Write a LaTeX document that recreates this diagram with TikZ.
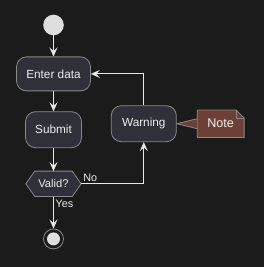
\documentclass[tikz,border=0pt]{standalone}
\usepackage{fontspec}
\setmainfont{Liberation Sans}
\usetikzlibrary{arrows.meta,positioning,backgrounds}

\definecolor{bgc}{RGB}{27,27,27}
\definecolor{actfill}{RGB}{47,48,57}
\definecolor{edgegray}{RGB}{138,138,138}
\definecolor{flowc}{RGB}{232,232,232}
\definecolor{txtc}{RGB}{238,238,238}
\definecolor{dotc}{RGB}{222,222,222}
\definecolor{notefill}{RGB}{108,64,54}

\begin{document}
\begin{tikzpicture}[
  x=1pt,y=-1pt,
  font=\fontsize{11.8}{14}\selectfont,
  act/.style={draw=edgegray,fill=actfill,text=txtc,rounded corners=10pt,line width=0.8pt,align=center,inner sep=0pt},
  startdot/.style={circle,fill=dotc,minimum size=20.6pt,inner sep=0pt},
  flow/.style={draw=flowc,line width=1.1pt,-{Stealth[length=9pt,width=8pt,inset=3.5pt]}},
  lbl/.style={text=txtc,font=\fontsize{10.8}{12}\selectfont,inner sep=1.5pt}
]
\begin{scope}[on background layer]
  \fill[bgc] (0,0) rectangle (264,267);
\end{scope}
\useasboundingbox (0,0) rectangle (264,267);

\node[startdot] (start) at (53.5,25) {};
\node[act,below=21pt of start,minimum width=74pt,minimum height=34pt] (enter) {Enter data};
\node[act,below=20pt of enter,minimum width=56pt,minimum height=36pt] (submit) {Submit};
\node[below=23pt of submit,minimum width=55pt,minimum height=25pt,inner sep=0pt,text=txtc,
  font=\fontsize{11.2}{13}\selectfont] (valid) {Valid?};
\node[circle,draw=edgegray,line width=0.8pt,minimum size=20pt,inner sep=0pt,below=32pt of valid] (stop) {};
\fill[dotc] (stop) circle (6.5pt);
\node[act,right=29pt of submit,yshift=6pt,minimum width=65pt,minimum height=36pt] (warning) {Warning};
\node[right=20.5pt of warning,minimum width=46.5pt,minimum height=27pt,inner sep=0pt,text=txtc,
  font=\fontsize{12.6}{14}\selectfont] (note) {Note};

% shapes drawn behind the text
\begin{scope}[on background layer]
  \draw[draw=edgegray,fill=actfill,line width=0.8pt] (valid.west) -- ([xshift=9pt]valid.north west)
    -- ([xshift=-9pt]valid.north east) -- (valid.east) -- ([xshift=-9pt]valid.south east)
    -- ([xshift=9pt]valid.south west) -- cycle;
  \draw[draw=edgegray,fill=notefill,line width=0.8pt] (note.north west) -- ([xshift=-8pt]note.north east)
    -- ([yshift=-8pt]note.north east) -- (note.south east) -- (note.south west) -- cycle;
  \draw[draw=edgegray,line width=0.8pt] ([xshift=-8pt]note.north east) -- ([xshift=-8pt,yshift=-8pt]note.north east)
    -- ([yshift=-8pt]note.north east);
  \fill[notefill] (warning.east) -- ([yshift=5pt]note.west) -- ([yshift=-5pt]note.west) -- cycle;
  \draw[draw=edgegray,line width=0.8pt] ([yshift=5pt]note.west) -- (warning.east) -- ([yshift=-5pt]note.west);
\end{scope}

\draw[flow] (start) -- (enter);
\draw[flow] (enter) -- (submit);
\draw[flow] (submit) -- (valid);
\draw[flow] (valid) -- node[lbl,right,pos=0.22] {Yes} (stop);
\draw[flow] (valid.east) -- node[lbl,above right,pos=0] {No} (valid.east -| warning) -- (warning);
\draw[flow] (warning) |- (enter);
\end{tikzpicture}
\end{document}
